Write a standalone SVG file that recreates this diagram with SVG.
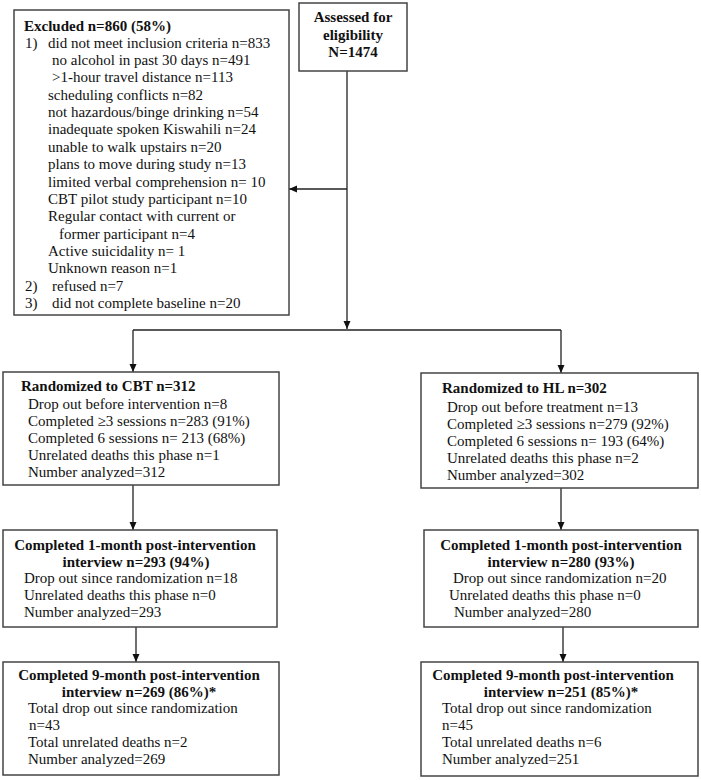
<svg xmlns="http://www.w3.org/2000/svg" width="701" height="780" viewBox="0 0 701 780">
<defs>
<marker id="ah" markerUnits="userSpaceOnUse" markerWidth="9" markerHeight="8" refX="8" refY="3.5" orient="auto">
<path d="M0,0 L8,3.5 L0,7 z" fill="#111"/>
</marker>
<style>
.box{fill:#fff;stroke:#444;stroke-width:1.5}
.t{font-family:"Liberation Serif","Times New Roman",serif;font-size:15px;fill:#111}
.b{font-weight:bold}
.m{text-anchor:middle}
.c{fill:none;stroke:#222;stroke-width:1.3}
.a{marker-end:url(#ah)}
</style>
</defs>
<rect width="701" height="780" fill="#fff"/>
<g id="connectors">
<line class="c a" x1="347" y1="71" x2="347" y2="329"/>
<line class="c a" x1="347" y1="189" x2="289" y2="189"/>
<line class="c" x1="133" y1="330" x2="561" y2="330"/>
<line class="c a" x1="133" y1="330" x2="133" y2="372"/>
<line class="c a" x1="561" y1="330" x2="561" y2="373"/>
<line class="c a" x1="133" y1="485" x2="133" y2="530"/>
<line class="c a" x1="561" y1="488" x2="561" y2="530"/>
<line class="c a" x1="136" y1="627" x2="136" y2="662"/>
<line class="c a" x1="563" y1="627" x2="563" y2="662"/>
</g>
<g id="assessed">
<rect class="box" x="299" y="3" width="108" height="68"/>
<text class="t b m" x="353" y="22">Assessed for</text>
<text class="t b m" x="353" y="39.5">eligibility</text>
<text class="t b m" x="353" y="57">N=1474</text>
</g>
<g id="excluded">
<rect class="box" x="14" y="10" width="275" height="305"/>
<text class="t b" x="24" y="31">Excluded n=860 (58%)</text>
<text class="t" x="25" y="48">1)</text>
<text class="t" x="48" y="48">did not meet inclusion criteria n=833</text>
<text class="t" x="52" y="65">no alcohol in past 30 days n=491</text>
<text class="t" x="52" y="82">&gt;1-hour travel distance n=113</text>
<text class="t" x="48" y="100">scheduling conflicts n=82</text>
<text class="t" x="48" y="117">not hazardous/binge drinking n=54</text>
<text class="t" x="48" y="134">inadequate spoken Kiswahili n=24</text>
<text class="t" x="48" y="152">unable to walk upstairs n=20</text>
<text class="t" x="48" y="169">plans to move during study n=13</text>
<text class="t" x="48" y="187">limited verbal comprehension n= 10</text>
<text class="t" x="48" y="204">CBT pilot study participant n=10</text>
<text class="t" x="48" y="221">Regular contact with current or</text>
<text class="t" x="59" y="239">former participant n=4</text>
<text class="t" x="48" y="256">Active suicidality n= 1</text>
<text class="t" x="48" y="273">Unknown reason n=1</text>
<text class="t" x="25" y="291">2)</text>
<text class="t" x="52" y="291">refused n=7</text>
<text class="t" x="25" y="308">3)</text>
<text class="t" x="52" y="308">did not complete baseline n=20</text>
</g>
<g id="cbt">
<rect class="box" x="3" y="372" width="276" height="113"/>
<text class="t b" x="21" y="391">Randomized to CBT n=312</text>
<text class="t" x="28" y="409">Drop out before intervention n=8</text>
<text class="t" x="28" y="426">Completed ≥3 sessions n=283 (91%)</text>
<text class="t" x="28" y="443">Completed 6 sessions n= 213 (68%)</text>
<text class="t" x="28" y="460">Unrelated deaths this phase n=1</text>
<text class="t" x="28" y="477">Number analyzed=312</text>
</g>
<g id="hl">
<rect class="box" x="421" y="373" width="277" height="115"/>
<text class="t b" x="442" y="393">Randomized to HL n=302</text>
<text class="t" x="447" y="412">Drop out before treatment n=13</text>
<text class="t" x="447" y="429">Completed ≥3 sessions n=279 (92%)</text>
<text class="t" x="447" y="446">Completed 6 sessions n= 193 (64%)</text>
<text class="t" x="447" y="463">Unrelated deaths this phase n=2</text>
<text class="t" x="447" y="480">Number analyzed=302</text>
</g>
<g id="cbt1m">
<rect class="box" x="3" y="530" width="274" height="97"/>
<text class="t b m" x="135" y="550">Completed 1-month post-intervention</text>
<text class="t b m" x="136" y="567">interview n=293 (94%)</text>
<text class="t" x="24" y="583">Drop out since randomization n=18</text>
<text class="t" x="24" y="600">Unrelated deaths this phase n=0</text>
<text class="t" x="24" y="617">Number analyzed=293</text>
</g>
<g id="hl1m">
<rect class="box" x="424" y="530" width="274" height="97"/>
<text class="t b m" x="561" y="550">Completed 1-month post-intervention</text>
<text class="t b m" x="561" y="567">interview n=280 (93%)</text>
<text class="t" x="453" y="583">Drop out since randomization n=20</text>
<text class="t" x="449" y="600">Unrelated deaths this phase n=0</text>
<text class="t" x="454" y="617">Number analyzed=280</text>
</g>
<g id="cbt9m">
<rect class="box" x="3" y="662" width="276" height="113"/>
<text class="t b m" x="139" y="680">Completed 9-month post-intervention</text>
<text class="t b m" x="139" y="697">interview n=269 (86%)*</text>
<text class="t" x="28" y="713">Total drop out since randomization</text>
<text class="t" x="29" y="730">n=43</text>
<text class="t" x="28" y="747">Total unrelated deaths n=2</text>
<text class="t" x="28" y="764">Number analyzed=269</text>
</g>
<g id="hl9m">
<rect class="box" x="421" y="662" width="277" height="114"/>
<text class="t b m" x="553" y="680">Completed 9-month post-intervention</text>
<text class="t b m" x="561" y="697">interview n=251 (85%)*</text>
<text class="t" x="442" y="713">Total drop out since randomization</text>
<text class="t" x="442" y="730">n=45</text>
<text class="t" x="442" y="747">Total unrelated deaths n=6</text>
<text class="t" x="442" y="764">Number analyzed=251</text>
</g>
</svg>
